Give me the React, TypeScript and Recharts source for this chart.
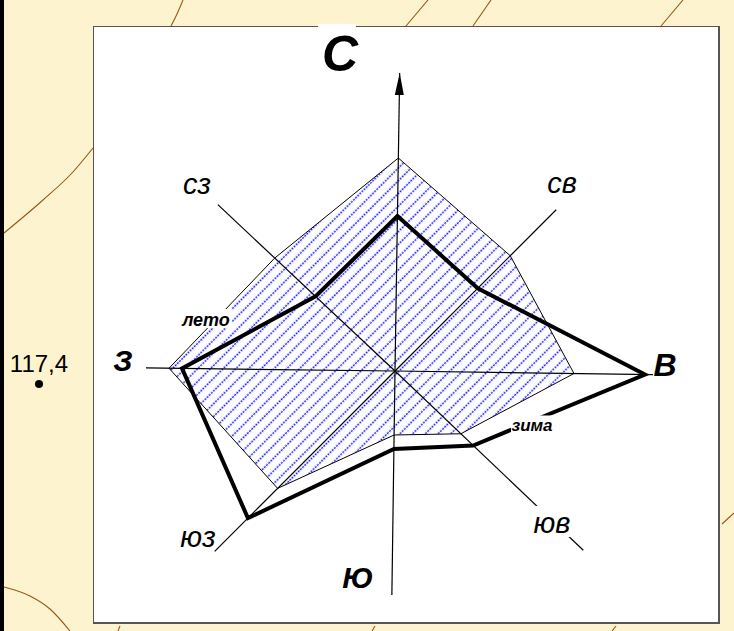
import React from "react";
import { RadarChart, Radar, PolarAngleAxis, PolarRadiusAxis, LineChart, Line, XAxis, YAxis } from "recharts";

// Wind directions and their bearings on the (slightly tilted) drawing
const directions = ["С", "СВ", "В", "ЮВ", "Ю", "ЮЗ", "З", "СЗ"];
const bearings = [0.9, 45, 90.8, 133.6, 180.8, 225, 270.7, 313.2];
// Wind rose values, in chart units
const summer = [213, 163, 179, 91, 64, 166, 226, 165];
const winter = [155, 117, 250, 108, 78, 208, 213, 109];
// Length of each axis spoke
const spokes = [298, 228, 258, 260, 224, 255, 249, 243];

const rows = directions.map((direction, i) => ({
  direction,
  bearing: bearings[i],
  summer: summer[i],
  winter: winter[i],
  spoke: spokes[i],
}));

// Background map contours
const contours: { x: number; y: number }[][] = [
  [{ x: 4, y: 233 }, { x: 43, y: 200 }, { x: 72, y: 173 }, { x: 93, y: 148 }],
  [{ x: 171, y: 26 }, { x: 177, y: 14 }, { x: 183, y: 0 }],
  [{ x: 406, y: 26 }, { x: 428, y: 0 }],
  [{ x: 473, y: 26 }, { x: 491, y: 0 }],
  [{ x: 661, y: 26 }, { x: 683, y: 0 }],
  [{ x: 722, y: 524 }, { x: 734, y: 513 }],
  [{ x: 4, y: 587 }, { x: 30, y: 596 }, { x: 50, y: 609 }, { x: 70, y: 631 }],
  [{ x: 120, y: 626 }, { x: 118, y: 631 }],
  [{ x: 375, y: 626 }, { x: 372, y: 631 }],
  [{ x: 616, y: 626 }, { x: 612, y: 631 }],
];

const FONT = '"Liberation Sans", Arial, sans-serif';
const WIDTH = 734;
const HEIGHT = 631;

const directionText = [
  { text: "С", x: 340, y: 71, size: 50, weight: 700 },
  { text: "св", x: 562, y: 193, size: 29, weight: 400 },
  { text: "В", x: 665, y: 376, size: 32, weight: 700 },
  { text: "юв", x: 552, y: 533, size: 29, weight: 400 },
  { text: "Ю", x: 358, y: 588, size: 30, weight: 700 },
  { text: "юз", x: 198, y: 547, size: 29, weight: 400 },
  { text: "З", x: 123, y: 371, size: 30, weight: 700 },
  { text: "сз", x: 197, y: 194, size: 29, weight: 400 },
  { text: "лето", x: 206, y: 326, size: 18, weight: 700 },
  { text: "зима", x: 532, y: 431, size: 17, weight: 700 },
];

const maskBoxes = [
  { x: 318, y: 24, w: 38, h: 4 },
  { x: 180, y: 309, w: 52, h: 19 },
  { x: 511, y: 415.5, w: 42, h: 17.5 },
  { x: 531, y: 506, w: 41, h: 31 },
];

function SpokeShape(props: any) {
  const pts = props.points as { x: number; y: number; cx: number; cy: number }[];
  const tip = pts[0];
  const len = Math.hypot(tip.x - tip.cx, tip.y - tip.cy);
  const ux = (tip.x - tip.cx) / len;
  const uy = (tip.y - tip.cy) / len;
  const bx = tip.x - ux * 22;
  const by = tip.y - uy * 22;
  return (
    <g>
      {pts.map((p, i) => (
        <line key={i} x1={p.cx} y1={p.cy} x2={p.x} y2={p.y} stroke="#000" strokeWidth={1.2} />
      ))}
      <polygon
        points={`${tip.x},${tip.y} ${bx - uy * 4.5},${by + ux * 4.5} ${bx + uy * 4.5},${by - ux * 4.5}`}
        fill="#000"
      />
    </g>
  );
}

export default function App() {
  return (
    <div style={{ position: "absolute", left: 0, top: 0, width: WIDTH, height: HEIGHT, overflow: "hidden", background: "#FEF3CF" }}>
      <div style={{ position: "absolute", left: 0, top: 0 }}>
        <LineChart width={WIDTH} height={HEIGHT} margin={{ top: 0, right: 0, bottom: 0, left: 0 }}>
          <XAxis type="number" dataKey="x" domain={[0, WIDTH]} hide allowDataOverflow />
          <YAxis type="number" dataKey="y" domain={[0, HEIGHT]} reversed hide allowDataOverflow />
          {contours.map((c, i) => (
            <Line key={i} data={c} dataKey="y" type="monotone" stroke="#9A5518" strokeWidth={1.1} dot={false} isAnimationActive={false} />
          ))}
        </LineChart>
      </div>
      <div style={{ position: "absolute", left: 0, top: 0, width: 4, height: HEIGHT, background: "#000" }} />
      <div style={{ position: "absolute", left: 93, top: 26, width: 627, height: 598, boxSizing: "border-box", background: "#fff", borderStyle: "solid", borderColor: "#555", borderWidth: "1px 2px 2px 1px" }} />
      <div style={{ position: "absolute", left: 0, top: 0 }}>
        <RadarChart
          width={WIDTH}
          height={HEIGHT}
          data={rows}
          cx={395}
          cy={371}
          innerRadius={0}
          outerRadius={300}
          startAngle={90}
          endAngle={-270}
          margin={{ top: 0, right: 0, bottom: 0, left: 0 }}
        >
          <defs>
            <pattern id="hatch" patternUnits="userSpaceOnUse" width={9} height={9} patternTransform="rotate(-45)">
              <line x1={0} y1={4.5} x2={9} y2={4.5} stroke="#2222FF" strokeWidth={1.3} strokeDasharray="2 1" />
            </pattern>
          </defs>
          <PolarAngleAxis type="number" dataKey="bearing" domain={[0, 360]} tick={false} axisLine={false} />
          <PolarRadiusAxis type="number" domain={[0, 300]} tick={false} axisLine={false} />
          <Radar dataKey="summer" stroke="#000" strokeWidth={1} fill="url(#hatch)" fillOpacity={1} isAnimationActive={false} />
          <Radar dataKey="spoke" shape={SpokeShape} isAnimationActive={false} />
          <Radar dataKey="winter" stroke="#000" strokeWidth={4} fill="none" fillOpacity={0} isAnimationActive={false} />
        </RadarChart>
      </div>
      <svg width={WIDTH} height={HEIGHT} style={{ position: "absolute", left: 0, top: 0 }}>
        {maskBoxes.map((b, i) => (
          <rect key={i} x={b.x} y={b.y} width={b.w} height={b.h} fill="#fff" />
        ))}
        {directionText.map((t) => (
          <text key={t.text} x={t.x} y={t.y} textAnchor="middle" fontFamily={FONT} fontSize={t.size} fontWeight={t.weight} fontStyle="italic" fill="#000">
            {t.text}
          </text>
        ))}
        <text x={39} y={372} textAnchor="middle" fontFamily={FONT} fontSize={24} fill="#000">117,4</text>
        <circle cx={39} cy={384} r={4} fill="#000" />
      </svg>
    </div>
  );
}
